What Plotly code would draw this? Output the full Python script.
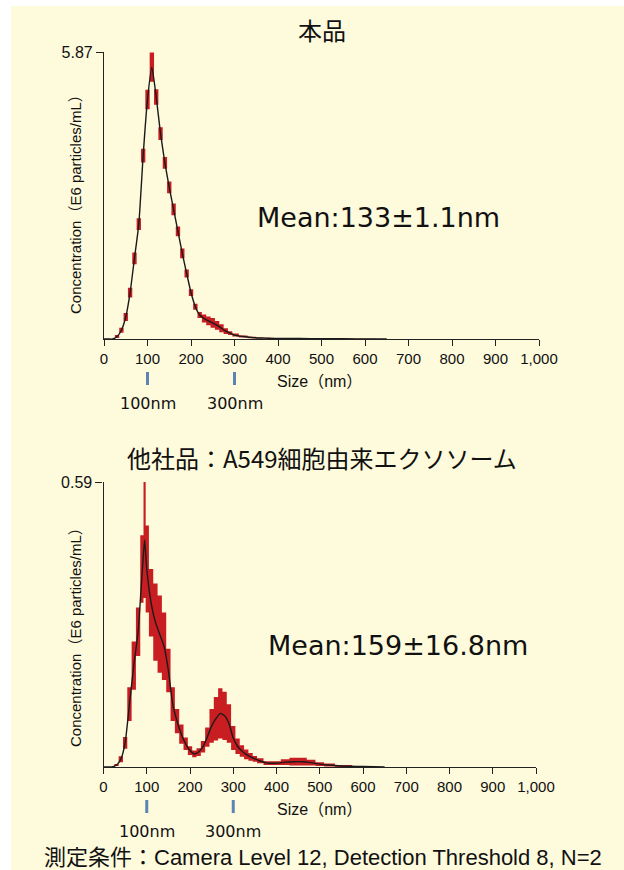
import plotly.graph_objects as go

W, H = 624, 870

# ---- particle size distributions (size in nm, concentration in E6 particles/mL) ----
size_a = [0, 10, 20, 30, 40, 50, 60, 70, 80, 90, 100, 110, 120, 130, 140, 150, 160,
          170, 180, 190, 200, 210, 220, 230, 240, 250, 260, 270, 280, 290, 300, 320,
          340, 360, 380, 400, 450, 500, 550, 600, 650]
mean_a = [0, 0, 0.0, 0.05, 0.18, 0.45, 0.95, 1.65, 2.35, 3.75, 4.9, 5.56, 4.95, 4.2,
          3.6, 3.1, 2.65, 2.2, 1.75, 1.34, 0.95, 0.66, 0.49, 0.42, 0.37, 0.33, 0.28,
          0.22, 0.16, 0.12, 0.08, 0.05, 0.03, 0.02, 0.015, 0.01, 0.01, 0.005, 0.005,
          0.002, 0]
sd_a = [0, 0, 0, 0.03, 0.05, 0.08, 0.1, 0.12, 0.12, 0.14, 0.2, 0.3, 0.16, 0.13, 0.12,
        0.12, 0.12, 0.1, 0.1, 0.08, 0.07, 0.06, 0.06, 0.08, 0.09, 0.1, 0.09, 0.08,
        0.06, 0.04, 0.03, 0.02, 0.015, 0.01, 0.01, 0.01, 0.01, 0.005, 0.005, 0.002, 0]

size_b = [0, 10, 20, 30, 40, 50, 60, 70, 80, 90, 95, 100, 110, 120, 130, 140, 150,
          160, 170, 180, 190, 200, 210, 220, 230, 240, 250, 260, 270, 280, 290, 300,
          310, 320, 330, 340, 350, 360, 380, 400, 420, 440, 460, 480, 500, 520, 550,
          600, 650]
mean_b = [0, 0, 0, 0.004, 0.016, 0.05, 0.13, 0.21, 0.28, 0.41, 0.47, 0.41, 0.34, 0.30,
          0.275, 0.25, 0.20, 0.13, 0.095, 0.068, 0.048, 0.034, 0.027, 0.031, 0.042,
          0.062, 0.085, 0.10, 0.111, 0.106, 0.09, 0.06, 0.043, 0.033, 0.026, 0.021,
          0.017, 0.013, 0.008, 0.008, 0.01, 0.011, 0.011, 0.009, 0.006, 0.004, 0.002,
          0.001, 0]
sd_b = [0, 0, 0, 0.002, 0.006, 0.012, 0.035, 0.05, 0.05, 0.07, 0.12, 0.09, 0.07, 0.08,
        0.08, 0.07, 0.045, 0.035, 0.025, 0.02, 0.013, 0.009, 0.007, 0.008, 0.012, 0.02,
        0.035, 0.045, 0.052, 0.05, 0.04, 0.025, 0.016, 0.012, 0.01, 0.008, 0.006,
        0.005, 0.004, 0.004, 0.006, 0.008, 0.008, 0.006, 0.004, 0.003, 0.002, 0.001, 0]

x_ticks = [0, 100, 200, 300, 400, 500, 600, 700, 800, 900, 1000]
x_tick_text = ["0", "100", "200", "300", "400", "500", "600", "700", "800", "900", "1,000"]
marker_sizes = [100, 300]
marker_text = ["100nm", "300nm"]

panels = [
    dict(title="本品", mean_text="Mean:133±1.1nm", ymax=5.87, ytext="5.87",
         size=size_a, mean=mean_a, sd=sd_a,
         x_px=(104, 539), y_px=(339, 52), title_y=30, mean_xy=(379, 218), ylab_y=201),
    dict(title="他社品：A549細胞由来エクソソーム", mean_text="Mean:159±16.8nm",
         ymax=0.59, ytext="0.59", size=size_b, mean=mean_b, sd=sd_b,
         x_px=(103.5, 536), y_px=(767, 482), title_y=457, mean_xy=(398, 645), ylab_y=634),
]

RED = "#C81E22"
CREAM = "#FEFADC"
TICK_FONT = dict(family="Liberation Sans, Arial, sans-serif", size=15, color="#111")
JP_FONT = "Noto Sans CJK JP, sans-serif"
WIDE_FONT = "DejaVu Sans, Verdana, sans-serif"


def px_x(p):
    return p / W


def px_y(p):
    return 1 - p / H


def label(text, x, y, font, xref="paper", **kw):
    return dict(text=text, x=x, y=y, xref=xref, yref="paper", showarrow=False,
                xanchor="center", yanchor="middle", font=font, **kw)


fig = go.Figure()
shapes = [dict(type="rect", xref="paper", yref="paper", x0=px_x(11), x1=1,
               y0=0, y1=px_y(6), fillcolor=CREAM, line_width=0, layer="below")]
annotations = []

for i, p in enumerate(panels, start=1):
    xa = "x" if i == 1 else f"x{i}"
    ya = "y" if i == 1 else f"y{i}"
    lower = [max(m - s, 0) for m, s in zip(p["mean"], p["sd"])]
    upper = [m + s for m, s in zip(p["mean"], p["sd"])]
    # per-bin error range drawn as centred steps
    band = dict(width=0, shape="hvh")
    fig.add_trace(go.Scatter(x=p["size"], y=lower, mode="lines", line=band,
                             xaxis=xa, yaxis=ya, showlegend=False, hoverinfo="skip"))
    fig.add_trace(go.Scatter(x=p["size"], y=upper, mode="lines", line=band,
                             fill="tonexty", fillcolor=RED, xaxis=xa, yaxis=ya,
                             showlegend=False, hoverinfo="skip"))
    fig.add_trace(go.Scatter(x=p["size"], y=p["mean"], mode="lines",
                             line=dict(color="#1a1a1a", width=1.4, shape="spline", smoothing=0.5),
                             xaxis=xa, yaxis=ya, showlegend=False))

    x0, x1 = p["x_px"]
    yb, yt = p["y_px"]
    axis_common = dict(showgrid=False, zeroline=False, showline=True, linecolor="#222",
                       linewidth=1.2, ticks="outside", tickcolor="#222", tickwidth=1.2,
                       tickfont=TICK_FONT, fixedrange=True, automargin=False)
    fig.update_layout(**{
        ("xaxis" if i == 1 else f"xaxis{i}"): dict(
            axis_common, domain=[px_x(x0), px_x(x1)], range=[0, 1000],
            anchor=ya, tickvals=x_ticks, ticktext=x_tick_text, ticklen=6),
        ("yaxis" if i == 1 else f"yaxis{i}"): dict(
            axis_common, domain=[px_y(yb), px_y(yt)], range=[0, p["ymax"]],
            anchor=xa, tickvals=[p["ymax"]], ticktext=[p["ytext"]], ticklen=7,
            tickfont=dict(TICK_FONT, size=16)),
    })

    # title above each panel
    annotations.append(label(p["title"], px_x(322), px_y(p["title_y"]),
                             dict(family=JP_FONT, size=24, color="#111")))
    # mean size label
    annotations.append(label(p["mean_text"], px_x(p["mean_xy"][0]), px_y(p["mean_xy"][1]),
                             dict(family=WIDE_FONT, size=27, color="#111")))
    # y axis title
    annotations.append(label("Concentration（E6 particles/mL）", px_x(75), px_y(p["ylab_y"]),
                             dict(family="Liberation Sans, " + JP_FONT, size=15,
                                  color="#111"), textangle=-90))
    # x axis title
    annotations.append(label("Size（nm）", px_x(319), px_y(yb + 42),
                             dict(family="Liberation Sans, " + JP_FONT, size=16, color="#111")))
    # reference size markers
    for s, t in zip(marker_sizes, marker_text):
        shapes.append(dict(type="line", xref=xa, yref="paper", x0=s, x1=s,
                           y0=px_y(yb + 33), y1=px_y(yb + 46),
                           line=dict(color="#5B84B4", width=3)))
        annotations.append(label(t, s, px_y(yb + 64),
                                 dict(family=WIDE_FONT, size=16, color="#111"), xref=xa))

annotations.append(label("測定条件：Camera Level 12, Detection Threshold 8, N=2",
                         px_x(323), px_y(857),
                         dict(family="Liberation Sans, " + JP_FONT, size=22, color="#111")))

fig.update_layout(width=W, height=H, autosize=False, margin=dict(l=0, r=0, t=0, b=0, pad=0),
                  paper_bgcolor="white", plot_bgcolor="rgba(0,0,0,0)",
                  shapes=shapes, annotations=annotations, showlegend=False)

fig.write_html("out.html")
